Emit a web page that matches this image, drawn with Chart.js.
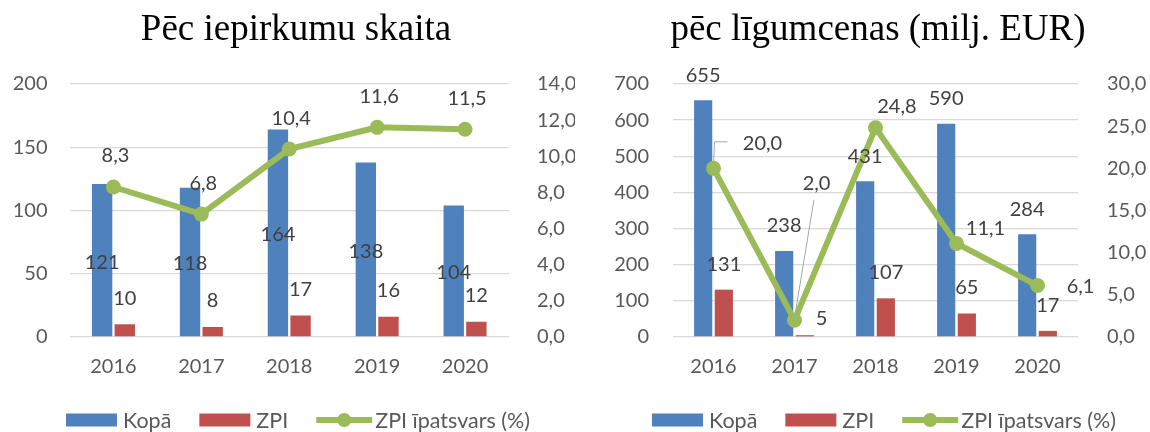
<!DOCTYPE html>
<html><head><meta charset="utf-8">
<script src="https://cdn.jsdelivr.net/npm/chart.js@4.4.1/dist/chart.umd.min.js"></script>
<style>
html,body{margin:0;padding:0;background:#fff;}
#wrap{position:relative;width:1150px;height:432px;overflow:hidden;background:#fff;}
.c{position:absolute;top:0;width:575px;height:432px;}
</style></head><body>
<div id="wrap">
<div class="c" style="left:0"><canvas id="c1" width="575" height="432"></canvas></div>
<div class="c" style="left:575px"><canvas id="c2" width="575" height="432"></canvas></div>
</div>
<script>
// ---------- data ----------
const years = ['2016', '2017', '2018', '2019', '2020'];
const seriesNames = ['Kopā', 'ZPI', 'ZPI īpatsvars (%)'];
const titles = ['Pēc iepirkumu skaita', 'pēc līgumcenas (milj. EUR)'];

const countTotal = [121, 118, 164, 138, 104];
const countZPI = [10, 8, 17, 16, 12];
const countShare = [8.3, 6.8, 10.4, 11.6, 11.5];

const valueTotal = [655, 238, 431, 590, 284];
const valueZPI = [131, 5, 107, 65, 17];
const valueShare = [20.0, 2.0, 24.8, 11.1, 6.1];

const countLeftTicks = [0, 50, 100, 150, 200];
const countRightTicks = [0, 2, 4, 6, 8, 10, 12, 14];
const valueLeftTicks = [0, 100, 200, 300, 400, 500, 600, 700];
const valueRightTicks = [0, 5, 10, 15, 20, 25, 30];

// ---------- styles ----------
const BLUE = '#4F81BD', RED = '#C0504D', GREEN = '#9BBB59';
const FONT = 'Lato';
const AXIS_COLOR = '#595959', LABEL_COLOR = '#404040', GRID = '#D9D9D9';
Chart.defaults.font.family = FONT;
Chart.defaults.font.size = 20;
Chart.defaults.color = AXIS_COLOR;

const comma = v => Number(v).toFixed(1).replace('.', ',');

const labelPlugin = {
  id: 'dl',
  afterDatasetsDraw(chart) {
    const cfg = chart.options.plugins.dl;
    const ctx = chart.ctx;
    ctx.save();
    ctx.font = '20px ' + FONT;
    ctx.textAlign = 'center';
    ctx.textBaseline = 'middle';
    chart.data.datasets.forEach((ds, di) => {
      const meta = chart.getDatasetMeta(di);
      const spec = cfg.series[di];
      meta.data.forEach((el, i) => {
        const v = ds.data[i];
        let x = el.x + (spec.dx || 0);
        let y = (spec.pos === 'center' ? (el.y + el.base) / 2 : el.y) + (spec.dy || 0);
        const n = spec.nudge && spec.nudge[i];
        if (n) { x = el.x + n.dx; y = el.y + n.dy; }
        const txt = spec.decimals ? comma(v) : String(v);
        if (n && n.leader) {
          ctx.strokeStyle = '#A6A6A6';
          ctx.lineWidth = 1;
          ctx.beginPath();
          if (n.leader === 'elbow') {
            ctx.moveTo(el.x, el.y - 2);
            ctx.lineTo(el.x + 1, y - 1.5);
            ctx.lineTo(x - 35, y - 1.5);
          } else {
            ctx.moveTo(el.x, el.y - 2);
            ctx.lineTo(x - 2.6, y + 17);
          }
          ctx.stroke();
        }
        ctx.fillStyle = LABEL_COLOR;
        ctx.fillText(txt, x, y);
      });
    });
    ctx.restore();
  }
};

const decoPlugin = {
  id: 'deco',
  afterDraw(chart) {
    const cfg = chart.options.plugins.deco;
    const ctx = chart.ctx;
    ctx.save();
    // title
    ctx.font = '37px "Liberation Serif"';
    ctx.fillStyle = '#000';
    ctx.textAlign = 'center';
    ctx.textBaseline = 'alphabetic';
    ctx.fillText(cfg.title, cfg.titleX, 40);
    // legend
    ctx.font = '21.5px ' + FONT;
    ctx.textAlign = 'left';
    let x = cfg.legendX;
    const yc = 420;
    chart.data.datasets.forEach((ds, di) => {
      if (ds.type === 'line') {
        ctx.strokeStyle = GREEN;
        ctx.lineWidth = 6;
        ctx.beginPath();
        ctx.moveTo(x, yc);
        ctx.lineTo(x + 56, yc);
        ctx.stroke();
        ctx.fillStyle = GREEN;
        ctx.beginPath();
        ctx.arc(x + 28, yc, 7, 0, Math.PI * 2);
        ctx.fill();
        x += 56 + 3;
      } else {
        ctx.fillStyle = ds.backgroundColor;
        ctx.fillRect(x, yc - 6.5, 51, 13);
        x += 51 + 6;
      }
      ctx.fillStyle = AXIS_COLOR;
      ctx.fillText(ds.label, x, yc + 7.5);
      x += ctx.measureText(ds.label).width + 28;
    });
    ctx.restore();
  }
};

function makeChart(id, totals, zpi, share, lTicks, rTicks, p) {
  return new Chart(document.getElementById(id), {
    data: {
      labels: years,
      datasets: [
        { type: 'bar', label: seriesNames[0], data: totals, backgroundColor: BLUE, yAxisID: 'y', order: 2,
          categoryPercentage: p.cat, barPercentage: p.bar },
        { type: 'bar', label: seriesNames[1], data: zpi, backgroundColor: RED, yAxisID: 'y', order: 2,
          categoryPercentage: p.cat, barPercentage: p.bar },
        { type: 'line', label: seriesNames[2], data: share, borderColor: GREEN, backgroundColor: GREEN,
          borderWidth: 6, pointRadius: 7.5, pointBackgroundColor: GREEN, pointBorderWidth: 0,
          yAxisID: 'y1', order: 0, tension: 0 }
      ]
    },
    options: {
      responsive: false,
      animation: false,
      devicePixelRatio: 1,
      layout: { padding: { top: 84, bottom: 0, left: 0, right: 0 } },
      plugins: {
        legend: { display: false },
        title: { display: false },
        tooltip: { enabled: false },
        dl: p.dl,
        deco: { title: p.title, titleX: p.titleX, legendX: p.legendX }
      },
      scales: {
        x: {
          grid: { display: false, drawTicks: false },
          border: { display: false },
          ticks: { padding: 18, color: AXIS_COLOR, font: { size: 20 } },
          afterFit: s => { s.height = 95; }
        },
        y: {
          position: 'left',
          min: lTicks[0], max: lTicks[lTicks.length - 1],
          grid: { color: GRID, lineWidth: 1.3, drawTicks: false },
          border: { display: false },
          ticks: { stepSize: lTicks[1] - lTicks[0], padding: p.lPad, color: AXIS_COLOR, font: { size: 20 } },
          afterFit: s => { s.width = p.lW; }
        },
        y1: {
          position: 'right',
          min: rTicks[0], max: rTicks[rTicks.length - 1],
          grid: { display: false, drawTicks: false },
          border: { display: false },
          ticks: { stepSize: rTicks[1] - rTicks[0], padding: p.rPad, color: AXIS_COLOR, font: { size: 20 },
                   callback: v => comma(v) },
          afterFit: s => { s.width = p.rW; }
        }
      }
    },
    plugins: [labelPlugin, decoPlugin]
  });
}

makeChart('c1', countTotal, countZPI, countShare, countLeftTicks, countRightTicks, {
  cat: 0.515, bar: 0.9, lW: 69.5, rW: 66, lPad: 22, rPad: 28,
  title: titles[0], titleX: 296, legendX: 66,
  dl: { series: [
    { pos: 'center', dx: 0, dy: 2 },
    { pos: 'end', dx: 0, dy: -26 },
    { pos: 'end', dx: 2, dy: -31, decimals: 1 }
  ] }
});

makeChart('c2', valueTotal, valueZPI, valueShare, valueLeftTicks, valueRightTicks, {
  cat: 0.51, bar: 0.88, lW: 98, rW: 72, lPad: 24, rPad: 29,
  title: titles[1], titleX: 303, legendX: 77,
  dl: { series: [
    { pos: 'end', dx: 0, dy: -25 },
    { pos: 'end', dx: 0, dy: -25.5, nudge: [null, { dx: 16.6, dy: -17 }, null, null, null] },
    { pos: 'end', dx: 0, dy: -25, decimals: 1, nudge: [
      { dx: 49, dy: -25, leader: 'elbow' },
      { dx: 22, dy: -137, leader: 'line' },
      { dx: 21.4, dy: -21 },
      { dx: 29, dy: -15 },
      { dx: 43, dy: 1 }
    ] }
  ] }
});
</script>
</body></html>
